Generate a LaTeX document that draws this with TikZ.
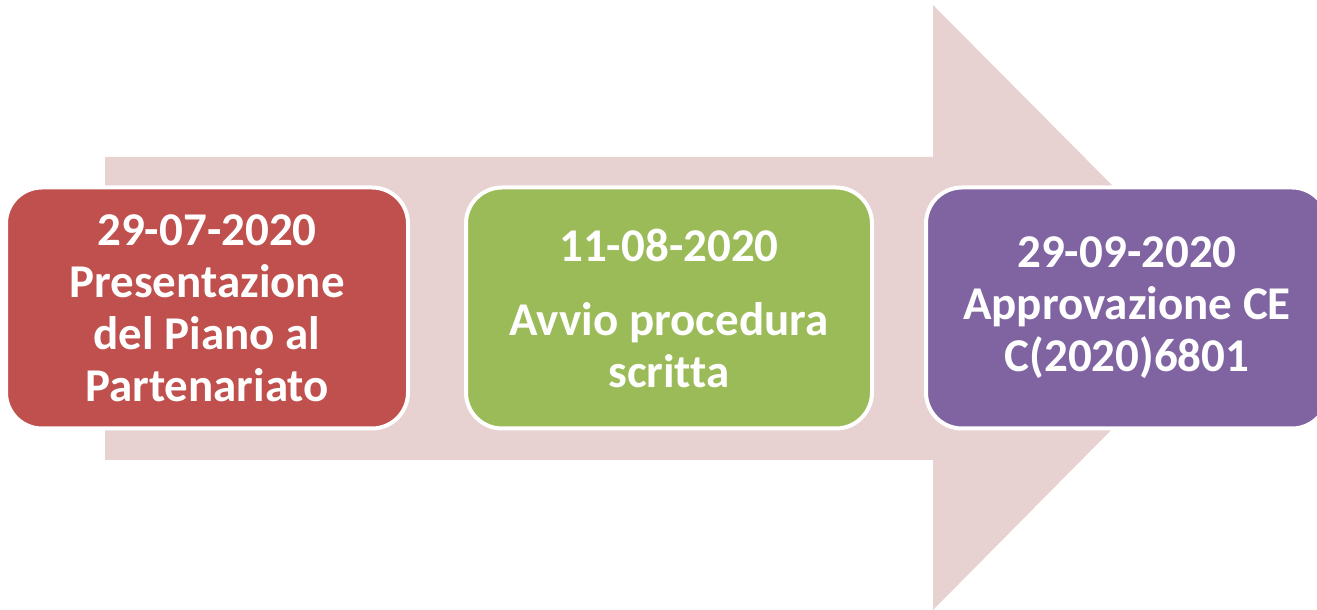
\documentclass[tikz,border=0pt]{standalone}
\usepackage{fontspec}
\setmainfont{Carlito}[Ligatures=CommonOff]
\usepackage{xcolor}
\usetikzlibrary{positioning}
\definecolor{arrowpink}{HTML}{E8D1D1}
\definecolor{stagered}{HTML}{C0504D}
\definecolor{stagegreen}{HTML}{9BBB59}
\definecolor{stagepurple}{HTML}{8064A2}

\begin{document}
\begin{tikzpicture}[
    x=1pt, y=1pt,
    backarrow/.style={fill=arrowpink},
    stage/.style={draw=white, line width=4pt, rounded corners=36pt,
      minimum width=402pt, minimum height=241pt, inner sep=0pt,
      align=center, text=white, font=\fontsize{47}{52}\selectfont\bfseries}
  ]
  \useasboundingbox (0,0) rectangle (1317,610);
  \clip (0,0) rectangle (1317,610);
  % big arrow behind the stages
  \fill[backarrow] (105,453) -- (933,453) -- (933,605) -- (1233,303)
    -- (933,0) -- (933,150) -- (105,150) -- cycle;
  % stages
  \node[stage, fill=stagered] (presentazione) at (207,302)
    {29-07-2020\\Presentazione\\del Piano al\\Partenariato};
  \node[stage, fill=stagegreen, minimum width=406pt, right=54pt of presentazione] (avvio)
    {11-08-2020\\[22pt]Avvio procedura\\scritta};
  \node[stage, fill=stagepurple, right=50pt of avvio] (approvazione)
    {29-09-2020\\Approvazione CE\\C(2020)6801};
\end{tikzpicture}
\end{document}
